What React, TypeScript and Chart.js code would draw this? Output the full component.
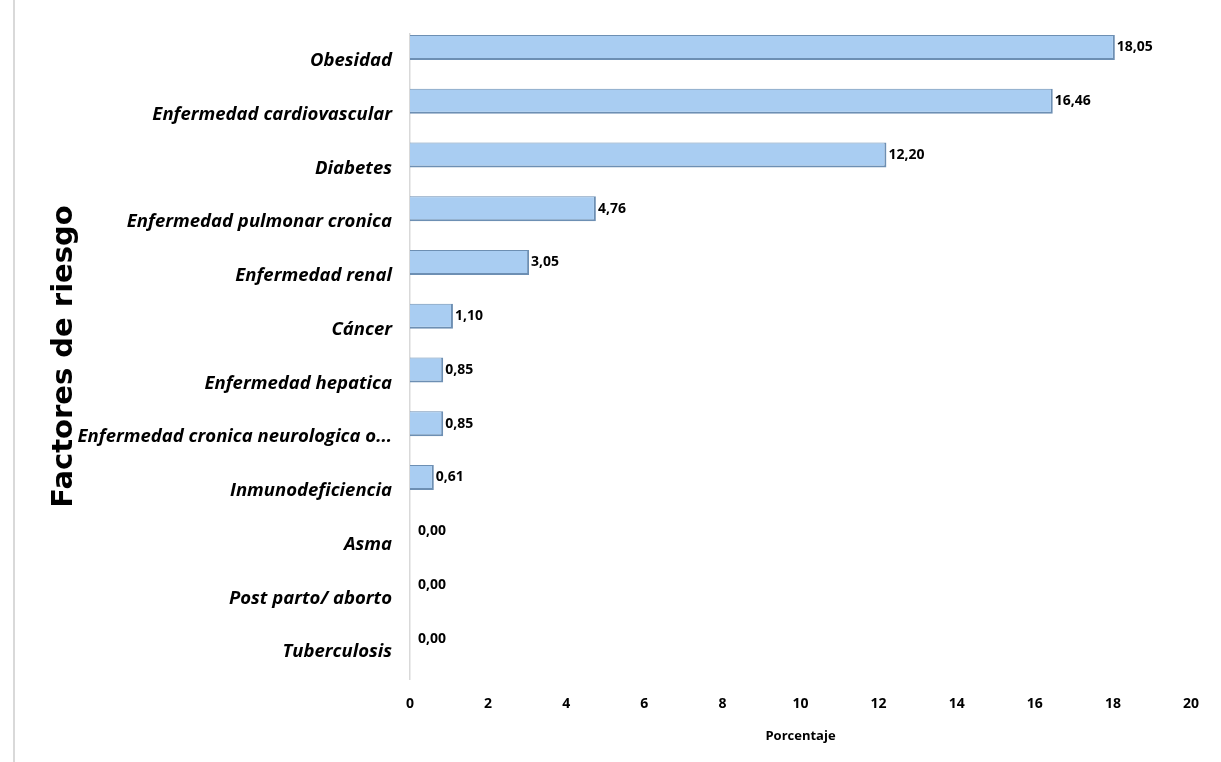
import React, { useEffect, useRef } from "react";
import { Chart, registerables } from "chart.js";

Chart.register(...registerables);

const categories = [
  "Obesidad",
  "Enfermedad cardiovascular",
  "Diabetes",
  "Enfermedad pulmonar cronica",
  "Enfermedad renal",
  "Cáncer",
  "Enfermedad hepatica",
  "Enfermedad cronica neurologica o...",
  "Inmunodeficiencia",
  "Asma",
  "Post parto/ aborto",
  "Tuberculosis",
];

const values = [18.05, 16.46, 12.2, 4.76, 3.05, 1.1, 0.85, 0.85, 0.61, 0.0, 0.0, 0.0];
const emptySeries = categories.map(() => null);

const xTicks = [0, 2, 4, 6, 8, 10, 12, 14, 16, 18, 20];
const xTitle = "Porcentaje";
const yTitle = "Factores de riesgo";

const labelFont = '"Open Sans", sans-serif';

const dataLabelPlugin = {
  id: "dataLabels",
  afterDatasetsDraw(chart: any) {
    const meta = chart.getDatasetMeta(0);
    const ctx = chart.ctx;
    ctx.save();
    ctx.font = `bold 14px ${labelFont}`;
    ctx.fillStyle = "#000";
    ctx.textAlign = "left";
    ctx.textBaseline = "middle";
    meta.data.forEach((bar: any, i: number) => {
      const v = values[i];
      const txt = v.toFixed(2).replace(".", ",");
      const off = v === 0 ? 8 : 2;
      ctx.fillText(txt, bar.x + off, bar.y);
    });
    ctx.restore();
  },
};

export default function App() {
  const ref = useRef<HTMLCanvasElement | null>(null);

  useEffect(() => {
    if (!ref.current) return;
    const chart = new Chart(ref.current, {
      type: "bar",
      data: {
        labels: categories,
        datasets: [
          {
            data: values,
            backgroundColor: "#A9CDF2",
            borderColor: "#6D8FB3",
            borderWidth: { top: 1, right: 2, bottom: 2, left: 0 } as any,
            borderSkipped: false,
            categoryPercentage: 1,
            barPercentage: 0.93,
          },
          {
            data: emptySeries as any,
            backgroundColor: "rgba(0,0,0,0)",
            borderWidth: 0,
            categoryPercentage: 1,
            barPercentage: 0.93,
          },
        ],
      },
      options: {
        indexAxis: "y",
        animation: false,
        responsive: false,
        maintainAspectRatio: false,
        layout: { padding: { left: 14, right: 30, top: 34, bottom: 0 } },
        plugins: {
          legend: { display: false },
          tooltip: { enabled: false },
        },
        scales: {
          x: {
            min: 0,
            max: 20,
            afterBuildTicks(scale: any) {
              scale.ticks = xTicks.map((v) => ({ value: v }));
            },
            afterFit(scale: any) {
              scale.height = 83;
            },
            grid: { display: false, drawTicks: false },
            border: { display: false },
            ticks: {
              padding: 17,
              color: "#000",
              font: { family: labelFont, size: 14, weight: "bold" },
            },
            title: {
              display: true,
              text: xTitle,
              color: "#000",
              font: { family: labelFont, size: 13, weight: "bold" },
              padding: { top: 0, bottom: 18 },
            },
          },
          y: {
            afterFit(scale: any) {
              scale.width = 396;
            },
            grid: { display: false, drawTicks: false },
            border: { display: true, color: "#D9D9D9", width: 1.5 },
            ticks: {
              padding: 18,
              color: "#000",
              font: { family: labelFont, size: 18.5, weight: "bold", style: "italic" },
            },
            title: {
              display: true,
              text: yTitle,
              color: "#000",
              font: { family: '"DejaVu Sans", sans-serif', size: 29, weight: "bold" },
              padding: { top: 33, bottom: 0 },
            },
          },
        },
      },
      plugins: [dataLabelPlugin],
    });
    return () => chart.destroy();
  }, []);

  return (
    <div
      style={{
        position: "fixed",
        left: 0,
        top: 0,
        width: 1221,
        height: 762,
        background: "#fff",
      }}
    >
      <div
        style={{
          position: "absolute",
          left: 13,
          top: 0,
          width: 0,
          height: 762,
          borderLeft: "2px solid #D9D9D9",
        }}
      />
      <canvas ref={ref} width={1221} height={762} style={{ position: "absolute", left: 0, top: 0 }} />
    </div>
  );
}
